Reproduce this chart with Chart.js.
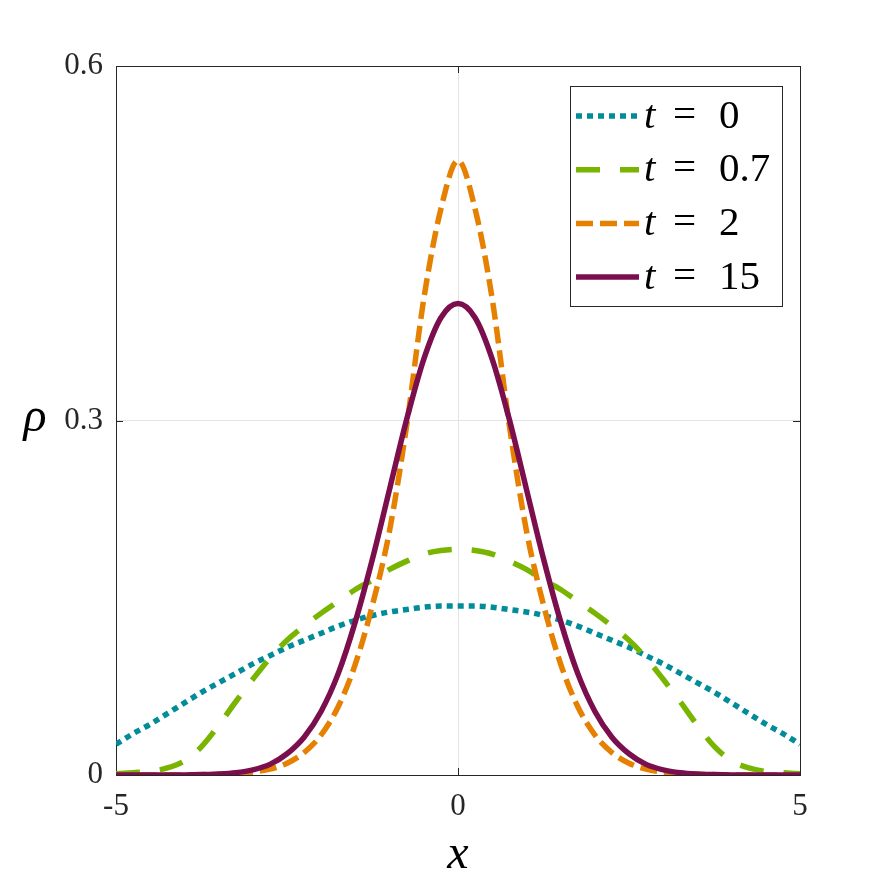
<!DOCTYPE html>
<html lang="en">
<head>
<meta charset="utf-8" />
<script src="https://cdn.jsdelivr.net/npm/chart.js@4/dist/chart.umd.min.js"></script>
<style>
  html, body { margin: 0; padding: 0; background: #ffffff; }
  canvas { display: block; }
</style>
</head>
<body>
<canvas id="rhoChart" width="886" height="886"></canvas>
<script>
// sample positions along x
var xValues = [-5, -4.75, -4.5, -4.25, -4, -3.75, -3.5, -3.25, -3, -2.75, -2.5, -2.25, -2, -1.75, -1.5, -1.25, -1, -0.75, -0.5, -0.25,
               0, 0.25, 0.5, 0.75, 1, 1.25, 1.5, 1.75, 2, 2.25, 2.5, 2.75, 3, 3.25, 3.5, 3.75, 4, 4.25, 4.5, 4.75, 5];

// density values, one array per time
var rhoT0 = [0.026, 0.035, 0.043, 0.052, 0.061, 0.070, 0.078, 0.086, 0.094, 0.101, 0.108, 0.114, 0.120, 0.126, 0.131, 0.135, 0.138, 0.140, 0.142, 0.143,
             0.143, 0.143, 0.142, 0.140, 0.138, 0.135, 0.131, 0.126, 0.120, 0.114, 0.108, 0.101, 0.094, 0.086, 0.078, 0.070, 0.061, 0.052, 0.043, 0.035, 0.026];
var rhoT07 = [0.001, 0.002, 0.003, 0.006, 0.012, 0.024, 0.042, 0.062, 0.081, 0.099, 0.114, 0.126, 0.137, 0.147, 0.157, 0.165, 0.174, 0.181, 0.187, 0.190,
              0.191, 0.190, 0.187, 0.181, 0.174, 0.165, 0.157, 0.147, 0.137, 0.126, 0.114, 0.099, 0.081, 0.062, 0.042, 0.024, 0.012, 0.006, 0.003, 0.002, 0.001];
var rhoT2 = [0, 0, 0, 0, 0.0001, 0.0003, 0.0006, 0.0012, 0.0025, 0.005, 0.010, 0.019, 0.034, 0.058, 0.094, 0.144, 0.207, 0.296, 0.403, 0.479,
             0.520, 0.479, 0.403, 0.296, 0.207, 0.144, 0.094, 0.058, 0.034, 0.019, 0.010, 0.005, 0.0025, 0.0012, 0.0006, 0.0003, 0.0001, 0, 0, 0, 0];
var rhoT15 = [0, 0, 0, 0, 0.0001, 0.0004, 0.0009, 0.002, 0.0044, 0.009, 0.018, 0.032, 0.054, 0.086, 0.130, 0.183, 0.242, 0.301, 0.352, 0.387,
              0.399, 0.387, 0.352, 0.301, 0.242, 0.183, 0.130, 0.086, 0.054, 0.032, 0.018, 0.009, 0.0044, 0.002, 0.0009, 0.0004, 0.0001, 0, 0, 0, 0];

var seriesNames = ['0', '0.7', '2', '15'];
var xTicks = [-5, 0, 5];
var xTickLabels = ['-5', '0', '5'];
var yTicks = [0, 0.3, 0.6];
var yTickLabels = ['0', '0.3', '0.6'];

var axisColor = '#262626';
var gridColor = '#e3e3e3';
var serif = '"Liberation Serif", "DejaVu Serif", serif';

function toPoints(ys) {
    return xValues.map(function (x, i) { return { x: x, y: ys[i] }; });
}

// box, inward ticks, axis labels and legend drawn like the MATLAB figure
const framePlugin = {
    id: 'frame',
    beforeDatasetsDraw(chart) {
        const ctx = chart.ctx, a = chart.chartArea;
        const xs = chart.scales.x, ys = chart.scales.y;
        ctx.save();
        ctx.strokeStyle = axisColor;
        ctx.lineWidth = 1;
        ctx.strokeRect(Math.round(a.left) + 0.5, Math.round(a.top) + 0.5,
                       Math.round(a.right - a.left), Math.round(a.bottom - a.top));
        ctx.beginPath();
        xTicks.forEach(function (v) {
            const px = Math.round(xs.getPixelForValue(v)) + 0.5;
            ctx.moveTo(px, a.bottom); ctx.lineTo(px, a.bottom - 7);
            ctx.moveTo(px, a.top); ctx.lineTo(px, a.top + 7);
        });
        yTicks.forEach(function (v) {
            const py = Math.round(ys.getPixelForValue(v)) + 0.5;
            ctx.moveTo(a.left, py); ctx.lineTo(a.left + 7, py);
            ctx.moveTo(a.right, py); ctx.lineTo(a.right - 7, py);
        });
        ctx.stroke();
        ctx.restore();
    },
    afterDraw(chart) {
        const ctx = chart.ctx, a = chart.chartArea;
        ctx.save();
        ctx.fillStyle = '#000';
        ctx.textAlign = 'center';
        ctx.textBaseline = 'middle';
        ctx.font = 'italic 48px ' + serif;
        ctx.fillText('x', (a.left + a.right) / 2, 855);
        ctx.fillText('\u03C1', 35, 418);

        // legend
        const bx = a.right - 230, by = a.top + 20, bw = 212, bh = 220;
        ctx.fillStyle = '#fff';
        ctx.fillRect(bx, by, bw, bh);
        ctx.strokeStyle = axisColor;
        ctx.lineWidth = 1;
        ctx.strokeRect(bx + 0.5, by + 0.5, bw, bh);
        chart.data.datasets.forEach(function (ds, i) {
            const cy = by + 30 + i * 53.7;
            ctx.save();
            ctx.strokeStyle = ds.borderColor;
            ctx.lineWidth = ds.borderWidth;
            ctx.setLineDash(ds.borderDash || []);
            ctx.beginPath();
            ctx.moveTo(bx + 6, cy);
            ctx.lineTo(bx + 69, cy);
            ctx.stroke();
            ctx.restore();
            ctx.fillStyle = '#000';
            ctx.textAlign = 'left';
            ctx.textBaseline = 'middle';
            ctx.font = 'italic 41px ' + serif;
            ctx.fillText('t', bx + 74, cy + 1);
            ctx.font = '41px ' + serif;
            ctx.fillText('=', bx + 103, cy);
            ctx.fillText(seriesNames[i], bx + 149, cy + 1);
        });
        ctx.restore();
    }
};

const lineStyles = [
    { color: '#008d99', dash: [6, 5], order: 3 },
    { color: '#79b500', dash: [24, 20], order: 2 },
    { color: '#e58000', dash: [17, 7], order: 1 },
    { color: '#7b0f4e', dash: [], order: 0 }
];
const allSeries = [rhoT0, rhoT07, rhoT2, rhoT15];

const rhoChart = new Chart(document.getElementById('rhoChart'), {
    type: 'line',
    data: {
        datasets: allSeries.map(function (ys, i) {
            return {
                label: 't = ' + seriesNames[i],
                data: toPoints(ys),
                borderColor: lineStyles[i].color,
                backgroundColor: lineStyles[i].color,
                borderWidth: 5.5,
                borderDash: lineStyles[i].dash,
                borderCapStyle: 'butt',
                pointRadius: 0,
                fill: false,
                cubicInterpolationMode: 'monotone',
                order: lineStyles[i].order
            };
        })
    },
    options: {
        responsive: false,
        animation: false,
        layout: { padding: { left: 0, top: 66, right: 86, bottom: 0 } },
        plugins: { legend: { display: false }, tooltip: { enabled: false } },
        scales: {
            x: {
                type: 'linear',
                min: -5, max: 5,
                afterFit: function (s) { s.height = 111; },
                afterBuildTicks: function (s) { s.ticks = xTicks.map(function (v) { return { value: v }; }); },
                ticks: {
                    padding: 13,
                    color: '#262626',
                    font: { family: serif, size: 31 },
                    callback: function (v) { return xTickLabels[xTicks.indexOf(v)]; }
                },
                grid: { color: gridColor, drawTicks: false },
                border: { display: false }
            },
            y: {
                type: 'linear',
                min: 0, max: 0.6,
                afterFit: function (s) { s.width = 116; },
                afterBuildTicks: function (s) { s.ticks = yTicks.map(function (v) { return { value: v }; }); },
                ticks: {
                    padding: 13,
                    color: '#262626',
                    font: { family: serif, size: 31 },
                    callback: function (v) { return yTickLabels[yTicks.indexOf(v)]; }
                },
                grid: { color: gridColor, drawTicks: false },
                border: { display: false }
            }
        }
    },
    plugins: [framePlugin]
});
</script>
</body>
</html>
